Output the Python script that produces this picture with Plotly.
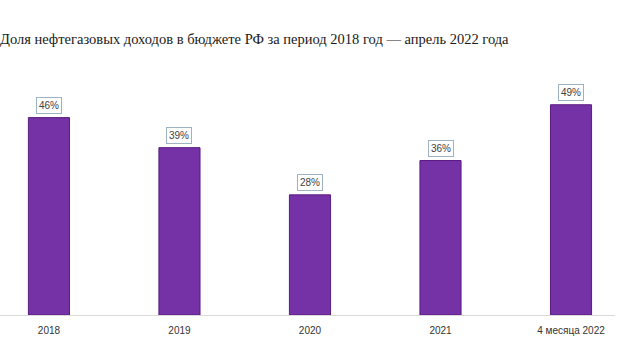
import plotly.graph_objects as go

categories = ["2018", "2019", "2020", "2021", "4 месяца 2022"]
values = [46, 39, 28, 36, 49]
labels = ["46%", "39%", "28%", "36%", "49%"]
title_text = "Доля нефтегазовых доходов в бюджете РФ за период 2018 год — апрель 2022 года"

fig = go.Figure()
fig.add_trace(go.Bar(
    x=list(range(len(categories))), y=values, width=0.315,
    marker=dict(color="#7531A6", line=dict(color="#5A1C80", width=1)),
    hoverinfo="skip",
))

for i, (v, t) in enumerate(zip(values, labels)):
    fig.add_annotation(
        x=i, y=v, text=t, showarrow=False, yshift=12, yanchor="middle",
        font=dict(family="Liberation Sans, Arial", size=10, color="#404040"),
        bgcolor="white", bordercolor="#9DB3C4", borderwidth=1, borderpad=2,
    )

fig.add_annotation(
    x=-2 / 615, xref="paper", xanchor="left",
    y=1 + (78.5 - 38.5) / 236.5, yref="paper", yanchor="middle",
    text=title_text, showarrow=False,
    font=dict(family="Liberation Serif, Times New Roman", size=14.5, color="#1a1a1a"),
)

fig.update_layout(
    width=620, height=364,
    margin=dict(l=0, r=5, t=78.5, b=49),
    paper_bgcolor="white", plot_bgcolor="white",
    showlegend=False,
    xaxis=dict(
        range=[-0.375, 4.337], tickmode="array",
        tickvals=list(range(len(categories))), ticktext=categories,
        showgrid=False, zeroline=False, showline=True, linecolor="#D9D9D9", linewidth=1,
        ticks="outside", ticklen=6, tickcolor="rgba(0,0,0,0)",
        tickfont=dict(family="Liberation Sans, Arial", size=10, color="#333333"),
    ),
    yaxis=dict(range=[0, 55], visible=False, showgrid=False, zeroline=False),
)

fig.write_html("out.html", config={"displayModeBar": False},
               post_script="document.body.style.margin='0';")
